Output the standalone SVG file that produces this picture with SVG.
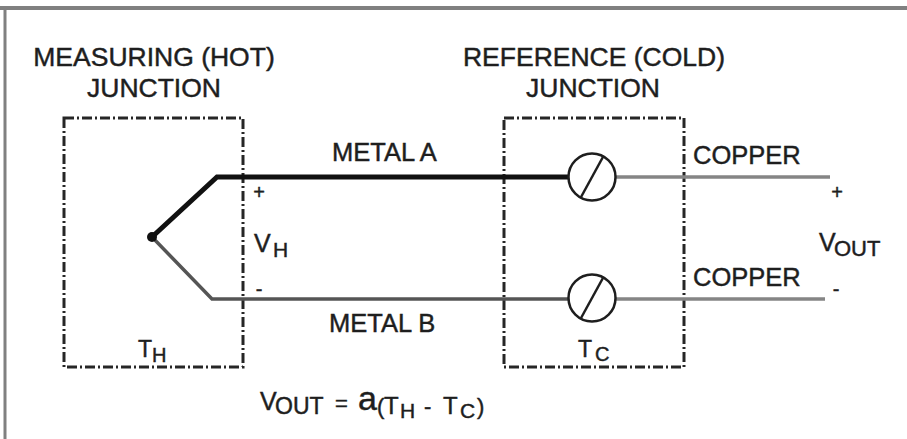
<svg xmlns="http://www.w3.org/2000/svg" width="907" height="439" viewBox="0 0 907 439">
<style>
text{font-family:"Liberation Sans",Arial,sans-serif;fill:#1e1e1e;stroke:#1e1e1e;stroke-width:0.45}
.hdr{font-size:26.5px;text-anchor:middle}
.lbl{font-size:25.5px}
.box{fill:none;stroke:#262626;stroke-width:3;stroke-dasharray:10 3 2 3}
.term{fill:#fff;stroke:#1e1e1e;stroke-width:2.5}
.slash{stroke:#1e1e1e;stroke-width:2.5}
.sign{font-size:20px;text-anchor:middle}
</style>
<rect width="907" height="439" fill="#fff"/>
<g id="frame" stroke="#808080" fill="none">
<line x1="0" y1="8" x2="907" y2="8" stroke-width="4"/>
<line x1="5" y1="8" x2="5" y2="439" stroke-width="3"/>
</g>
<g id="hot-junction">
<rect class="box" x="64" y="118" width="179" height="249"/>
<text class="hdr" x="154" y="66">MEASURING (HOT)</text>
<text class="hdr" x="154" y="97">JUNCTION</text>
<text x="138" y="357" font-size="23">T<tspan x="152" y="362" font-size="20">H</tspan></text>
</g>
<g id="cold-junction">
<rect class="box" x="504" y="118" width="180" height="249"/>
<text class="hdr" x="594" y="66">REFERENCE (COLD)</text>
<text class="hdr" x="593" y="97">JUNCTION</text>
<text x="578" y="357" font-size="23">T<tspan x="595" y="361" font-size="20">C</tspan></text>
</g>
<g id="connectors" fill="none" stroke-linejoin="miter">
<polyline points="152,237 217,177 570,177" stroke="#111" stroke-width="5"/>
<polyline points="152,237 212,299 570,299" stroke="#555" stroke-width="3.5"/>
<line x1="614" y1="177" x2="830" y2="177" stroke="#858585" stroke-width="3.5"/>
<line x1="614" y1="299" x2="825" y2="299" stroke="#858585" stroke-width="3.5"/>
</g>
<g id="junction-point">
<circle cx="152" cy="237" r="5" fill="#111"/>
</g>
<g id="terminal-top">
<circle class="term" cx="592" cy="177" r="23.5"/>
<line class="slash" x1="580.5" y1="198" x2="603.5" y2="156"/>
</g>
<g id="terminal-bottom">
<circle class="term" cx="592" cy="298" r="23.5"/>
<line class="slash" x1="580.5" y1="319" x2="603.5" y2="277"/>
</g>
<g id="labels">
<text class="lbl" x="332" y="161">METAL A</text>
<text class="lbl" x="329" y="332">METAL B</text>
<text class="lbl" x="693" y="164">COPPER</text>
<text class="lbl" x="693" y="286">COPPER</text>
<text class="sign" x="259" y="199">+</text>
<text class="sign" x="259" y="296">-</text>
<text class="sign" x="837" y="199">+</text>
<text class="sign" x="836" y="296">-</text>
<text x="254" y="252" font-size="25">V<tspan x="273" y="257" font-size="21">H</tspan></text>
<text x="819" y="251" font-size="25">V<tspan x="834" y="256" font-size="22">OUT</tspan></text>
</g>
<g id="formula">
<text x="260" y="410" font-size="25">V<tspan x="275" y="414" font-size="23">OUT</tspan><tspan x="335" y="411" font-size="22">=</tspan><tspan x="358" y="410" font-size="34">a</tspan><tspan x="377" y="414" font-size="22">(</tspan><tspan x="384" y="414" font-size="24">T</tspan><tspan x="400" y="418" font-size="21">H</tspan><tspan x="424" y="414" font-size="22">-</tspan><tspan x="443" y="414" font-size="24">T</tspan><tspan x="460" y="418" font-size="21">C</tspan><tspan x="477" y="414" font-size="22">)</tspan></text>
</g>
</svg>
